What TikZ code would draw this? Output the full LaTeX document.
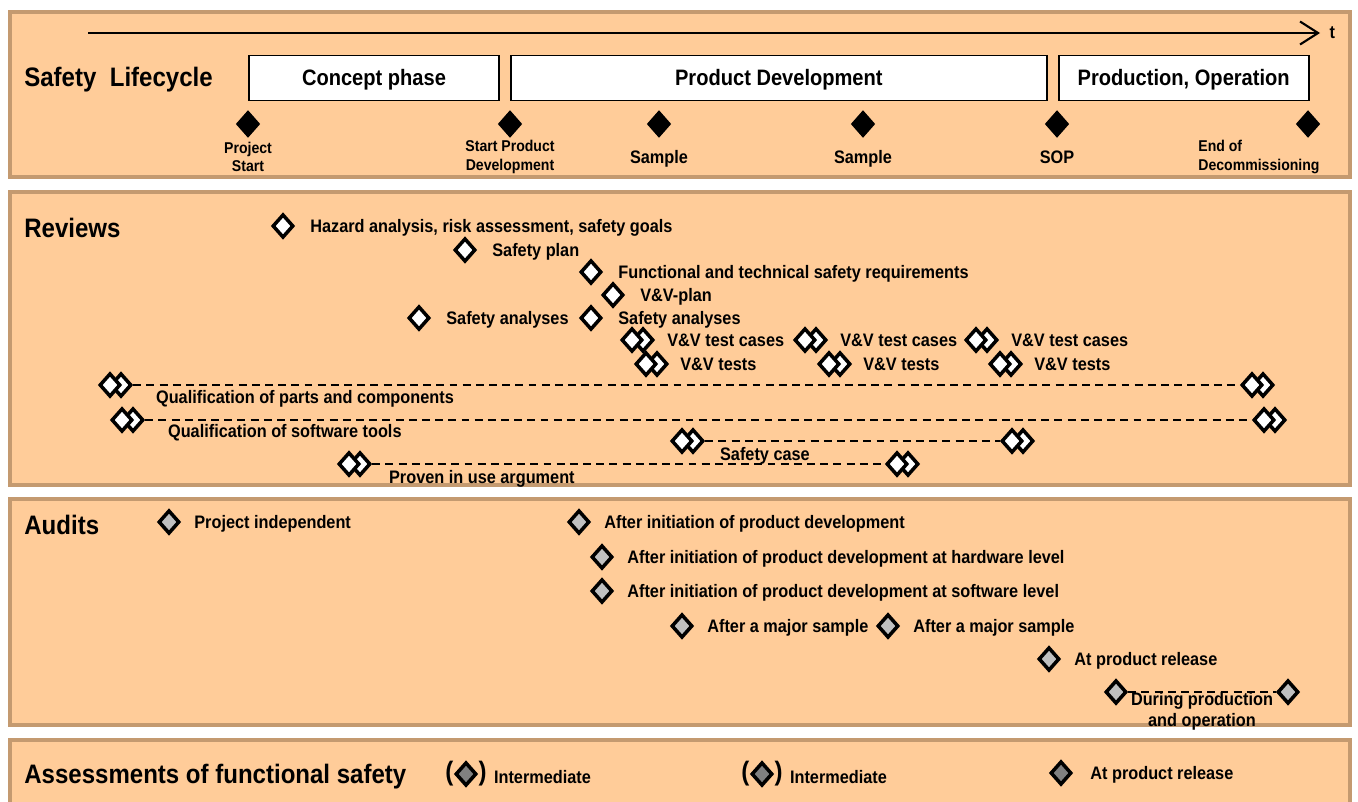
\documentclass[tikz,border=0pt]{standalone}
\usepackage{fontspec}
\setmainfont{Liberation Sans}[FakeStretch=0.9]
\usepackage{xcolor}
\usepackage{tikz}
\usetikzlibrary{positioning, shapes.geometric, arrows.meta}
\definecolor{panelFill}{RGB}{255,204,153}
\definecolor{panelLine}{RGB}{196,154,112}
\definecolor{auditGray}{RGB}{192,192,192}
\definecolor{assessGray}{RGB}{128,128,128}
\tikzset{
    panel/.style={
        draw=panelLine,
        fill=panelFill,
        line width=2.2pt
    },
    title/.style={
        font=\fontsize{15.2}{18}\selectfont\bfseries,
        anchor=west,
        inner sep=0pt
    },
    phase/.style={
        draw,
        fill=white,
        line width=1.1pt,
        inner sep=0pt,
        minimum height=0.9cm,
        text height=9.6pt,
        text depth=1pt,
        font=\fontsize{12.7}{15}\selectfont\bfseries
    },
    milestone/.style={
        diamond,
        draw,
        fill=black,
        line width=0.8pt,
        inner sep=0pt,
        minimum width=0.46cm,
        minimum height=0.52cm
    },
    review/.style={
        diamond,
        draw,
        fill=white,
        line width=2pt,
        inner sep=0pt,
        minimum width=0.42cm,
        minimum height=0.47cm
    },
    audit/.style={review, fill=auditGray},
    assess/.style={review, fill=assessGray},
    lbl/.style={
        font=\fontsize{10.3}{12}\selectfont\bfseries,
        inner sep=1pt,
        text height=9.3pt,
        text depth=2pt
    },
    mlbl/.style={
        font=\fontsize{8.9}{10.5}\selectfont\bfseries,
        align=center,
        inner sep=0pt
    },
    paren/.style={
        font=\fontsize{15.2}{18}\selectfont\bfseries,
        inner sep=0pt
    },
    span/.style={
        dash pattern=on 4.5pt off 3pt,
        line width=0.7pt
    },
    timeline/.style={
        -{Straight Barb[length=0.36cm, width=0.46cm, line width=1.2pt]},
        line width=1.2pt
    }
}

\begin{document}
\begin{tikzpicture}[x=0.02cm, y=-0.02cm]
    \clip (0,0) rectangle (1358,801);

    % panels
    \draw[panel] (10,12) rectangle (1350,177);
    \draw[panel] (10,192) rectangle (1350,485);
    \draw[panel] (10,499) rectangle (1350,725);
    \draw[panel] (10,740) rectangle (1350,830);

    % safety lifecycle
    \node[title] (tLife) at (24,80) {Safety\ \ Lifecycle};
    \coordinate (tStart) at (88,33);
    \coordinate (tEnd) at (1320,33);
    \draw[timeline] (tStart) -- (tEnd);
    \node[lbl, right=0.15cm of tEnd, text height=, text depth=] (tLbl) {t};

    \node[phase, minimum width=5cm] (concept) at (374,78) {Concept phase};
    \node[phase, minimum width=10.72cm, right=0.2cm of concept] (proddev) {Product Development};
    \node[phase, minimum width=5cm, right=0.2cm of proddev] (prodop) {Production, Operation};

    \node[milestone] (msPS) at (248,124) {};
    \node[milestone] (msSPD) at (510,124) {};
    \node[milestone] (msS1) at (659,124) {};
    \node[milestone] (msS2) at (863,124) {};
    \node[milestone] (msSOP) at (1057,124) {};
    \node[milestone] (msEOD) at (1308,124) {};

    \node[mlbl] at (248,157) {Project\\Start};
    \node[mlbl] at (510,157) {Start Product\\Development};
    \node[lbl] at (659,157) {Sample};
    \node[lbl] at (863,157) {Sample};
    \node[lbl] at (1057,157) {SOP};
    \node[mlbl, align=left, anchor=west] at (1198,157) {End of\\Decommissioning};

    % reviews
    \node[title] (tRev) at (24,228) {Reviews};

    \node[review] (rvHara) at (283,226) {};
    \node[lbl, right=0.26cm of rvHara] {Hazard analysis, risk assessment, safety goals};
    \node[review] (rvPlan) at (465,250) {};
    \node[lbl, right=0.26cm of rvPlan] {Safety plan};
    \node[review] (rvReq) at (591,272) {};
    \node[lbl, right=0.26cm of rvReq] {Functional and technical safety requirements};
    \node[review] (rvVVplan) at (613,295) {};
    \node[lbl, right=0.26cm of rvVVplan] {V\&V-plan};
    \node[review] (rvSA1) at (419,318) {};
    \node[lbl, right=0.26cm of rvSA1] {Safety analyses};
    \node[review] (rvSA2) at (591,318) {};
    \node[lbl, right=0.26cm of rvSA2] {Safety analyses};

    \node[review] (tc1b) at (643,340) {};
    \node[review] (tc1a) at (632,340) {};
    \node[lbl, right=0.2cm of tc1b] {V\&V test cases};
    \node[review] (tc2b) at (816,340) {};
    \node[review] (tc2a) at (805,340) {};
    \node[lbl, right=0.2cm of tc2b] {V\&V test cases};
    \node[review] (tc3b) at (987,340) {};
    \node[review] (tc3a) at (976,340) {};
    \node[lbl, right=0.2cm of tc3b] {V\&V test cases};

    \node[review] (ts1b) at (657,364) {};
    \node[review] (ts1a) at (646,364) {};
    \node[lbl, right=0.18cm of ts1b] {V\&V tests};
    \node[review] (ts2b) at (840,364) {};
    \node[review] (ts2a) at (829,364) {};
    \node[lbl, right=0.18cm of ts2b] {V\&V tests};
    \node[review] (ts3b) at (1011,364) {};
    \node[review] (ts3a) at (1000,364) {};
    \node[lbl, right=0.18cm of ts3b] {V\&V tests};

    \node[review] (qp1b) at (121,385) {};
    \node[review] (qp1a) at (110,385) {};
    \node[review] (qp2b) at (1263,385) {};
    \node[review] (qp2a) at (1252,385) {};
    \draw[span] (qp1b.east) -- (qp2a.west);
    \node[lbl, anchor=west] at (154,397) {Qualification of parts and components};

    \node[review] (qs1b) at (133,420) {};
    \node[review] (qs1a) at (122,420) {};
    \node[review] (qs2b) at (1275,420) {};
    \node[review] (qs2a) at (1264,420) {};
    \draw[span] (qs1b.east) -- (qs2a.west);
    \node[lbl, anchor=west] at (166,431) {Qualification of software tools};

    \node[review] (sc1b) at (693,441) {};
    \node[review] (sc1a) at (682,441) {};
    \node[review] (sc2b) at (1023,441) {};
    \node[review] (sc2a) at (1012,441) {};
    \draw[span] (sc1b.east) -- (sc2a.west);
    \node[lbl, anchor=west] at (718,454) {Safety case};

    \node[review] (pu1b) at (360,464) {};
    \node[review] (pu1a) at (349,464) {};
    \node[review] (pu2b) at (908,464) {};
    \node[review] (pu2a) at (897,464) {};
    \draw[span] (pu1b.east) -- (pu2a.west);
    \node[lbl, anchor=west] at (387,477) {Proven in use argument};

    % audits
    \node[title] (tAud) at (24,525) {Audits};

    \node[audit] (auPI) at (169,522) {};
    \node[lbl, right=0.22cm of auPI] {Project independent};
    \node[audit] (auInit) at (579,522) {};
    \node[lbl, right=0.22cm of auInit] {After initiation of product development};
    \node[audit] (auHW) at (602,557) {};
    \node[lbl, right=0.22cm of auHW] {After initiation of product development at hardware level};
    \node[audit] (auSW) at (602,591) {};
    \node[lbl, right=0.22cm of auSW] {After initiation of product development at software level};
    \node[audit] (auMS1) at (682,626) {};
    \node[lbl, right=0.22cm of auMS1] {After a major sample};
    \node[audit] (auMS2) at (888,626) {};
    \node[lbl, right=0.22cm of auMS2] {After a major sample};
    \node[audit] (auRel) at (1049,659) {};
    \node[lbl, right=0.22cm of auRel] {At product release};

    \node[audit] (auDP1) at (1116,692) {};
    \node[audit] (auDP2) at (1288,692) {};
    \draw[span] (auDP1.east) -- (auDP2.west);
    \node[lbl, align=center, text height=, text depth=] at (1202,711) {During production\\and operation};

    % assessments
    \node[title] (tAss) at (24,777) {Assessments of functional safety};

    \node[assess] (asI1) at (466,774) {};
    \node[paren, left=0pt of asI1] {(};
    \node[paren, right=0pt of asI1] (rp1) {)};
    \node[lbl, right=0.1cm of rp1, yshift=-2] {Intermediate};
    \node[assess] (asI2) at (762,774) {};
    \node[paren, left=0pt of asI2] {(};
    \node[paren, right=0pt of asI2] (rp2) {)};
    \node[lbl, right=0.1cm of rp2, yshift=-2] {Intermediate};
    \node[assess] (asRel) at (1061,773) {};
    \node[lbl, right=0.3cm of asRel] {At product release};
\end{tikzpicture}
\end{document}
